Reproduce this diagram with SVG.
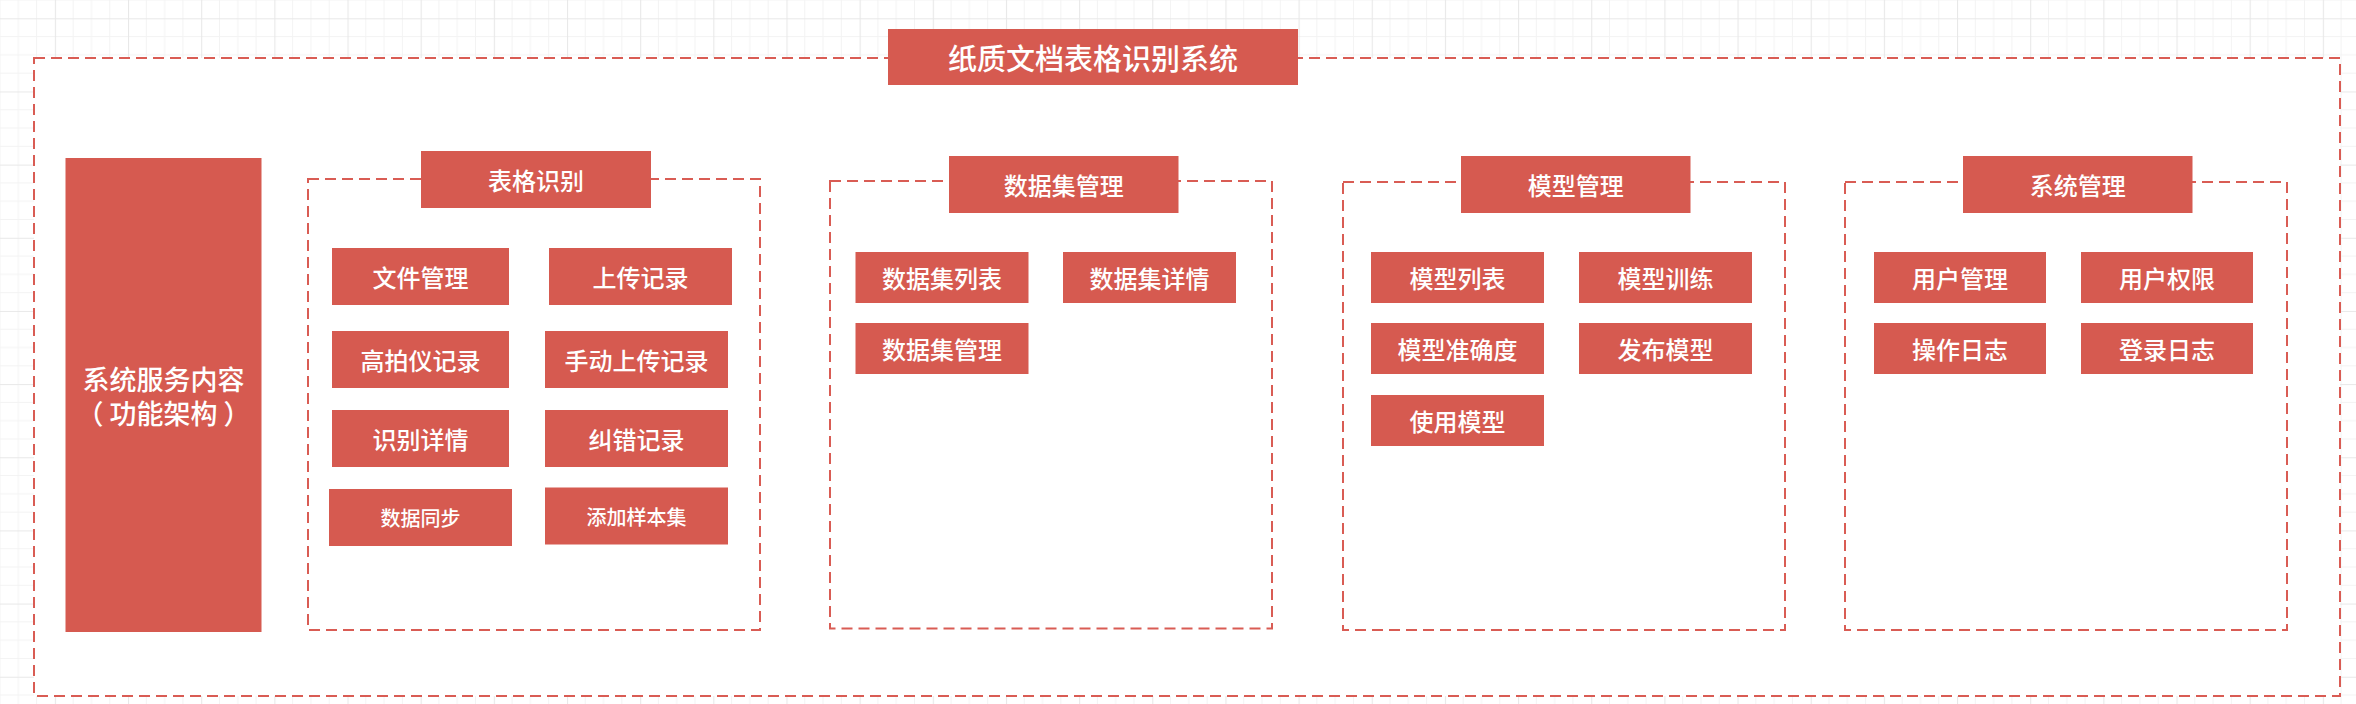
<svg xmlns="http://www.w3.org/2000/svg" width="2356" height="704" viewBox="0 0 2356 704">
  <defs>
    <pattern id="grid" x="-18.3" y="18.3" width="73.16" height="73.16" patternUnits="userSpaceOnUse">
      <path d="M18.29 0V73.16M36.58 0V73.16M54.87 0V73.16M0 18.29H73.16M0 36.58H73.16M0 54.87H73.16" stroke="#f3f3f3" stroke-width="1" fill="none"/>
      <path d="M0.5 0V73.16M0 0.5H73.16" stroke="#e8e8e8" stroke-width="1.2" fill="none"/>
    </pattern>
    <style>
      .box { fill: #d65a50; }
      .dash { fill: #ffffff; stroke: #d95c54; stroke-width: 2; stroke-dasharray: 11 6; }
      .t { fill: #ffffff; font-family: "Noto Sans CJK SC", "Microsoft YaHei", sans-serif; font-weight: 500; font-size: 24px; text-anchor: middle; dominant-baseline: central; }
      .ts { font-size: 20px; }
      .tt { font-size: 29px; }
      .tl { font-size: 27px; }
    </style>
  </defs>

  <rect x="0" y="0" width="2356" height="704" fill="#ffffff"/>
  <rect x="0" y="0" width="2356" height="704" fill="url(#grid)"/>

  <g id="frame">
    <rect class="dash" x="34" y="58" width="2306" height="638"/>
  </g>

  <g id="title">
    <rect class="box" x="888" y="29" width="410" height="56"/>
    <text class="t tt" x="1093" y="57">纸质文档表格识别系统</text>
  </g>

  <g id="left-panel">
    <rect class="box" x="65.5" y="158" width="196" height="474"/>
    <text class="t tl" x="163.5" y="378" xml:space="preserve"><tspan x="163.5" y="378">系统服务内容</tspan><tspan x="163.5" y="412">（ 功能架构 ）</tspan></text>
  </g>

  <g id="group-table">
    <rect class="dash" x="308" y="179" width="452" height="451"/>
    <rect class="box" x="421" y="151" width="230" height="57"/>
    <text class="t" x="536" y="179.5">表格识别</text>
  </g>
  <g id="n-file"><rect class="box" x="332" y="248" width="177" height="57"/><text class="t" x="420.5" y="276.5">文件管理</text></g>
  <g id="n-upload"><rect class="box" x="549" y="248" width="183" height="57"/><text class="t" x="640.5" y="276.5">上传记录</text></g>
  <g id="n-camera"><rect class="box" x="332" y="331" width="177" height="57"/><text class="t" x="420.5" y="359.5">高拍仪记录</text></g>
  <g id="n-manual"><rect class="box" x="545" y="331" width="183" height="57"/><text class="t" x="636.5" y="359.5">手动上传记录</text></g>
  <g id="n-detail"><rect class="box" x="332" y="410" width="177" height="57"/><text class="t" x="420.5" y="438.5">识别详情</text></g>
  <g id="n-correct"><rect class="box" x="545" y="410" width="183" height="57"/><text class="t" x="636.5" y="438.5">纠错记录</text></g>
  <g id="n-sync"><rect class="box" x="329" y="489" width="183" height="57"/><text class="t ts" x="420.5" y="517.5">数据同步</text></g>
  <g id="n-sample"><rect class="box" x="545" y="487.5" width="183" height="57"/><text class="t ts" x="636.5" y="516">添加样本集</text></g>

  <g id="group-dataset">
    <rect class="dash" x="830" y="181" width="442" height="447.5"/>
    <rect class="box" x="949" y="156" width="229.5" height="57"/>
    <text class="t" x="1063.75" y="184.5">数据集管理</text>
  </g>
  <g id="n-ds-list"><rect class="box" x="855.5" y="252" width="173" height="51"/><text class="t" x="942" y="277.5">数据集列表</text></g>
  <g id="n-ds-detail"><rect class="box" x="1063" y="252" width="173" height="51"/><text class="t" x="1149.5" y="277.5">数据集详情</text></g>
  <g id="n-ds-manage"><rect class="box" x="855.5" y="323" width="173" height="51"/><text class="t" x="942" y="348.5">数据集管理</text></g>

  <g id="group-model">
    <rect class="dash" x="1343" y="182" width="442" height="448"/>
    <rect class="box" x="1461" y="156" width="229.5" height="57"/>
    <text class="t" x="1575.75" y="184.5">模型管理</text>
  </g>
  <g id="n-m-list"><rect class="box" x="1371" y="252" width="173" height="51"/><text class="t" x="1457.5" y="277.5">模型列表</text></g>
  <g id="n-m-train"><rect class="box" x="1579" y="252" width="173" height="51"/><text class="t" x="1665.5" y="277.5">模型训练</text></g>
  <g id="n-m-acc"><rect class="box" x="1371" y="323" width="173" height="51"/><text class="t" x="1457.5" y="348.5">模型准确度</text></g>
  <g id="n-m-pub"><rect class="box" x="1579" y="323" width="173" height="51"/><text class="t" x="1665.5" y="348.5">发布模型</text></g>
  <g id="n-m-use"><rect class="box" x="1371" y="395" width="173" height="51"/><text class="t" x="1457.5" y="420.5">使用模型</text></g>

  <g id="group-system">
    <rect class="dash" x="1845" y="182" width="442" height="448"/>
    <rect class="box" x="1963" y="156" width="229.5" height="57"/>
    <text class="t" x="2077.75" y="184.5">系统管理</text>
  </g>
  <g id="n-s-user"><rect class="box" x="1874" y="252" width="172" height="51"/><text class="t" x="1960" y="277.5">用户管理</text></g>
  <g id="n-s-perm"><rect class="box" x="2081" y="252" width="172" height="51"/><text class="t" x="2167" y="277.5">用户权限</text></g>
  <g id="n-s-oplog"><rect class="box" x="1874" y="323" width="172" height="51"/><text class="t" x="1960" y="348.5">操作日志</text></g>
  <g id="n-s-login"><rect class="box" x="2081" y="323" width="172" height="51"/><text class="t" x="2167" y="348.5">登录日志</text></g>

  <g id="connectors"></g>
</svg>
